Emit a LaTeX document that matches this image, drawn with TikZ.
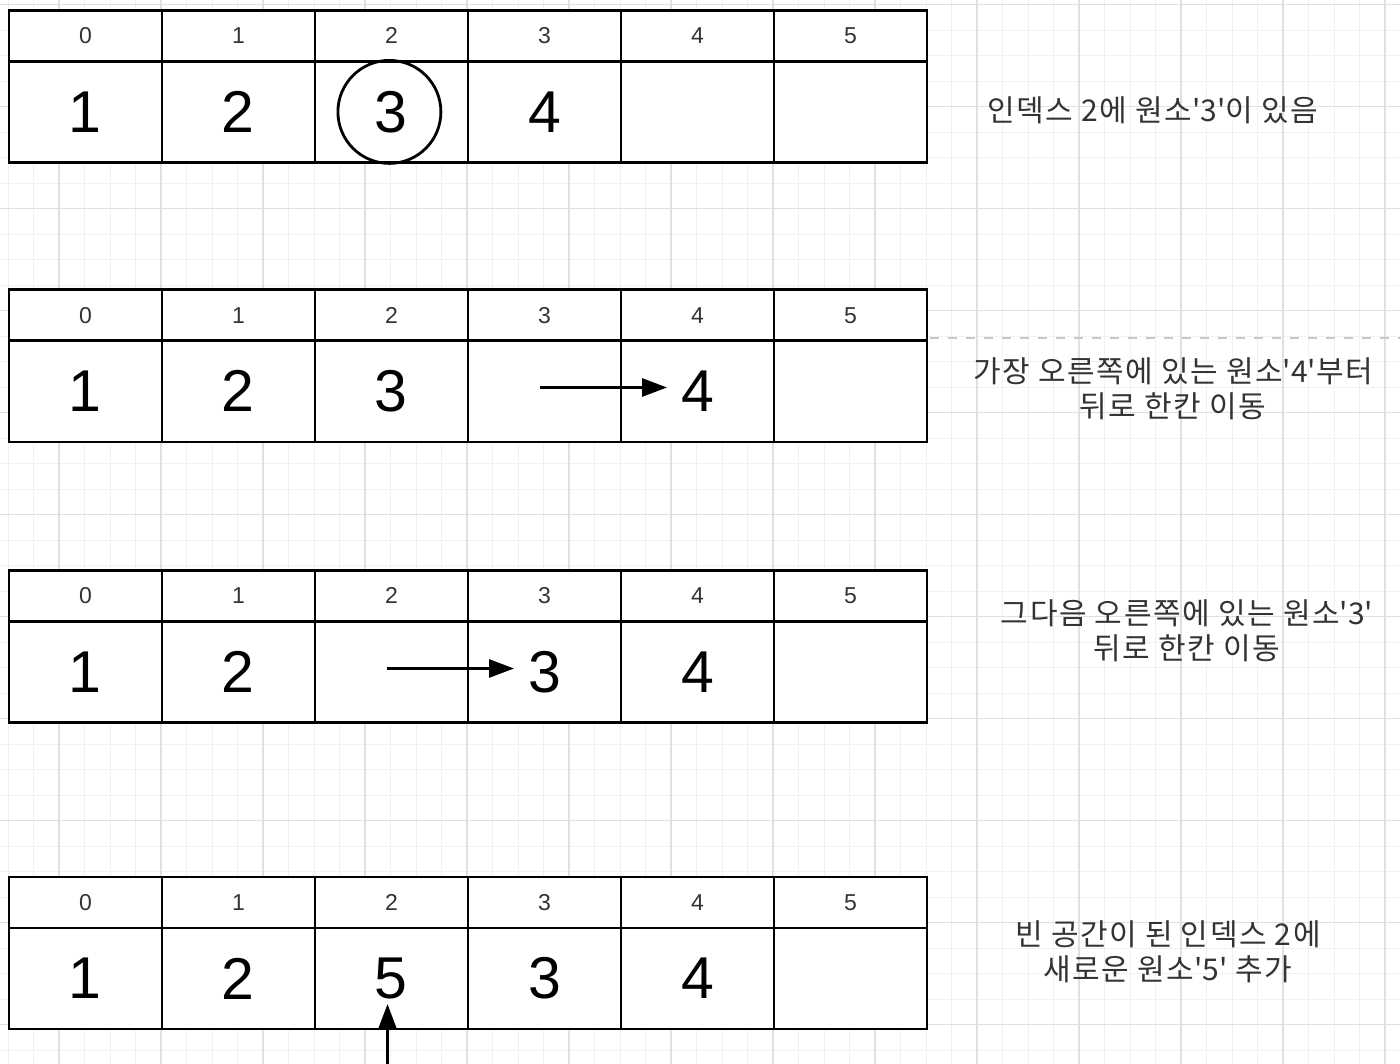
\documentclass[tikz,border=0pt]{standalone}
\usepackage{fontspec}
\setmainfont{Liberation Sans}
\newfontfamily\krfont{Noto Sans CJK KR}[LetterSpace=5]
\usetikzlibrary{arrows.meta}
\definecolor{gridminor}{HTML}{F1F1F1}
\definecolor{gridmajor}{HTML}{E0E0E0}
\definecolor{txt}{HTML}{333333}
\definecolor{dashcol}{HTML}{C8C8C8}
\newcommand\q{\textquotesingle}
\begin{document}
\begin{tikzpicture}[x=1pt,y=-1pt,
  hcell/.style={draw=black, fill=white, line width=2.8pt, minimum width=153pt, minimum height=51pt,
    inner sep=0pt, anchor=north west, text=txt, font=\fontsize{23}{23}\selectfont},
  bcell/.style={draw=black, fill=white, line width=2.8pt, minimum width=153pt, minimum height=101pt,
    inner sep=0pt, anchor=north west, text=black, font=\fontsize{59}{59}\selectfont},
  arr/.style={line width=2.8pt, -{Triangle[length=25pt,width=18pt]}},
  note/.style={text=txt, align=center, font=\krfont\fontsize{30}{35}\selectfont},
  minorline/.style={gridminor, line width=1pt},
  majorline/.style={gridmajor, line width=1.1pt}]
\useasboundingbox (0,0) rectangle (1400,1064);
\fill[white] (0,0) rectangle (1400,1064);
\begin{scope}
\clip (0,0) rectangle (1400,1064);
\foreach \i in {-3,...,53} \draw[minorline] ({59+25.5*\i},0) -- ++(0,1064);
\foreach \j in {0,...,42} \draw[minorline] (0,{4.7+25.5*\j}) -- ++(1400,0);
\foreach \i in {-1,...,13} \draw[majorline] ({59+102*\i},0) -- ++(0,1064);
\foreach \j in {0,...,10} \draw[majorline] (0,{4.7+102*\j}) -- ++(1400,0);
\end{scope}
% table 1
\foreach \i in {0,...,5} \node[hcell] (h1-\i) at ({7.5+153*\i},9) {\i};
\foreach \v [count=\i from 0] in {1,2,3,4,{},{}} \node[bcell] (b1-\i) at ({7.5+153*\i},60) {\v};
% table 2
\foreach \i in {0,...,5} \node[hcell] (h2-\i) at ({7.5+153*\i},288.5) {\i};
\foreach \v [count=\i from 0] in {1,2,3,{},4,{}} \node[bcell] (b2-\i) at ({7.5+153*\i},339.5) {\v};
% table 3
\foreach \i in {0,...,5} \node[hcell] (h3-\i) at ({7.5+153*\i},569) {\i};
\foreach \v [count=\i from 0] in {1,2,{},3,4,{}} \node[bcell] (b3-\i) at ({7.5+153*\i},620) {\v};
% table 4
\foreach \i in {0,...,5} \node[hcell] (h4-\i) at ({7.5+153*\i},875.5) {\i};
\foreach \v [count=\i from 0] in {1,2,5,3,4,{}} \node[bcell] (b4-\i) at ({7.5+153*\i},926.5) {\v};
% circle
\node[circle, draw=black, line width=2.8pt, minimum size=103pt, inner sep=0pt] (ring) at ([xshift=-2pt]b1-2.center) {};
% arrows
\coordinate (a2s) at (540,387.5);
\coordinate (a2e) at (667,387.5);
\draw[arr] (a2s) -- (a2e);
\coordinate (a3s) at (387,668.5);
\coordinate (a3e) at (514,668.5);
\draw[arr] (a3s) -- (a3e);
\coordinate (a4s) at (387.5,1066);
\coordinate (a4e) at (387.5,1004);
\draw[arr] (a4s) -- (a4e);
% dashed line
\coordinate (d1) at (930,338);
\coordinate (d2) at (1400,338);
\draw[dashcol, line width=1.5pt, dash pattern=on 9pt off 9pt] (d1) -- (d2);
% notes
\node[note] (n1) at (1153,110) {인덱스 2에 원소\q{}3\q{}이 있음};
\node[note] (n2) at (1173,389) {가장 오른쪽에 있는 원소\q{}4\q{}부터\\뒤로 한칸 이동};
\node[note] (n3) at (1187,631) {그다음 오른쪽에 있는 원소\q{}3\q{}\\뒤로 한칸 이동};
\node[note] (n4) at (1168,951.5) {빈 공간이 된 인덱스 2에\\새로운 원소\q{}5\q{} 추가};
\end{tikzpicture}
\end{document}
